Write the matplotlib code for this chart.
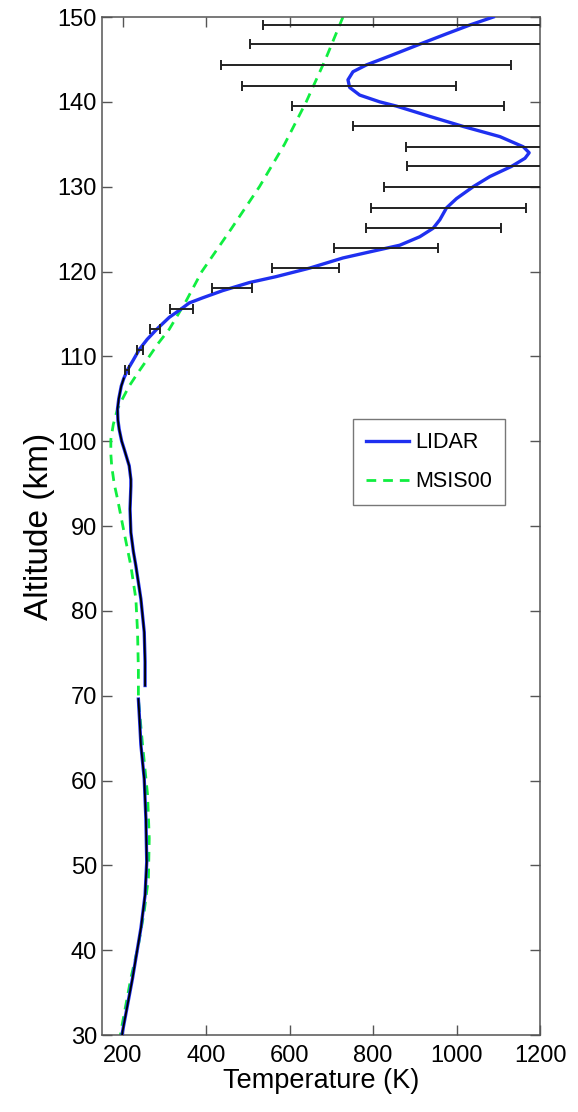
import numpy as np
import matplotlib.pyplot as plt

plt.rcParams['font.family'] = ['Liberation Sans', 'DejaVu Sans']

# LIDAR profile, upper segment (km, K)
lidar_alt_hi = [150, 149.06, 148.0, 146.8, 145.5, 144.35, 143.55, 142.6, 141.7, 140.8,
                140.0, 139.5, 138.3, 137.1, 135.9, 134.7, 134.0, 133.35, 132.4, 131.2,
                130.0, 128.6, 127.5, 126.1, 125.1, 124.1, 123.1, 122.4, 121.6, 120.4,
                119.4, 118.7, 117.75, 116.9, 116.3, 115.5, 114.6, 113.2, 112.0, 110.8,
                109.5, 108.5, 107.4, 106.5, 105.0, 103.8, 102.5, 101.4, 100.0, 99.06,
                97.1, 95.5, 94.7, 92.0, 89.25, 87.0, 85.3, 81.4, 77.5, 74.0, 71.2]
lidar_T_hi = [1088, 1032, 975, 912, 845, 784, 752, 740, 744, 768,
              816, 856, 935, 1016, 1104, 1160, 1174, 1164, 1132, 1080,
              1040, 1000, 976, 960, 944, 912, 864, 800, 728, 648,
              568, 504, 440, 392, 360, 338, 312, 282, 259, 240,
              225, 213, 203, 197, 191, 188, 189, 192, 198, 204,
              216, 220, 220, 218, 220, 226, 232, 244, 252, 254, 254]

# LIDAR profile, lower segment
lidar_alt_lo = [69.6, 67.0, 64.2, 60.2, 55.5, 50.4, 46.5, 42.6, 36.7, 30.4, 30.0]
lidar_T_lo = [238, 241, 244, 252, 256, 258, 254, 244, 224, 200, 199]

# MSIS00 model
msis_alt = [150, 145, 140, 135, 130, 125, 120, 116.5, 113.2, 111.5, 109.7, 108, 106.5,
            105, 103.8, 102, 100.2, 98.5, 97.1, 95, 93.2, 89.2, 85.3, 81.4, 77.5, 73,
            69.6, 64.2, 58.3, 53.2, 48.5, 44.6, 40.6, 36.7, 30.4, 30]
msis_T = [728, 686, 640, 588, 528, 460, 390, 352, 312, 285, 260, 236, 216,
          200, 188, 178, 172, 172, 174, 180, 188, 204, 220, 232, 236, 238,
          238, 248, 260, 264, 262, 252, 238, 220, 196, 195]

# error bars: altitude, lower and upper bound (K)
err_alt = [149.1, 146.8, 144.35, 141.9, 139.5, 137.1, 134.7, 132.4, 130.0, 127.5,
           125.1, 122.8, 120.4, 118.0, 115.6, 113.2, 110.8, 108.4]
err_lo = [536, 505, 436, 487, 606, 751, 878, 882, 827, 794,
          783, 706, 559, 414, 314, 266, 235, 206]
err_hi = [1528, 1319, 1130, 999, 1114, 1281, 1442, 1382, 1253, 1166,
          1106, 955, 719, 511, 369, 290, 248, 216]

fig = plt.figure(figsize=(5.78, 11.12), dpi=100)
ax = fig.add_axes([0.1773, 0.0692, 0.757, 0.9155])

blue = '#1f30f0'
green = '#10ee40'

ax.plot(lidar_T_hi, lidar_alt_hi, color=blue, lw=2.4, label='LIDAR', zorder=3,
        solid_joinstyle='round')
ax.plot(lidar_T_lo, lidar_alt_lo, color=blue, lw=2.4, zorder=3)
ax.plot(msis_T, msis_alt, color=green, lw=2.0, ls=(0, (3.5, 2.5)), label='MSIS00', zorder=2)

# dense small error bars below ~107 km show up as a black line over the profile
a_hi = np.array(lidar_alt_hi)
t_hi = np.array(lidar_T_hi)
m = a_hi <= 107.5
ax.plot(t_hi[m], a_hi[m], color='black', lw=1.3, zorder=4)
ax.plot(lidar_T_lo, lidar_alt_lo, color='black', lw=1.3, zorder=4)

lo = np.array(err_lo)
hi = np.array(err_hi)
ax.errorbar((lo + hi) / 2, err_alt, xerr=(hi - lo) / 2, fmt='none',
            ecolor='#222222', elinewidth=1.4, capsize=3.3, capthick=1.4, zorder=5)

ax.set_xlim(152, 1200)
ax.set_ylim(30, 150)
ax.set_xticks([200, 400, 600, 800, 1000, 1200])
ax.set_yticks(np.arange(30, 151, 10))
ax.tick_params(direction='in', top=True, right=True, length=7, width=1,
               color='#555555', labelsize=17)
ax.tick_params(axis='x', pad=7)
ax.tick_params(axis='y', pad=4)
for s in ax.spines.values():
    s.set_color('#555555')
    s.set_linewidth(1.1)

ax.set_xlabel('Temperature (K)', fontsize=19.5, labelpad=1)
ax.set_ylabel('Altitude (km)', fontsize=24, labelpad=2)

leg = ax.legend(loc='upper left', bbox_to_anchor=(0.573, 0.605), fontsize=15.5,
                frameon=True, fancybox=False, handlelength=2.0, handletextpad=0.3,
                borderpad=0.6, labelspacing=0.85, borderaxespad=0)
leg.get_frame().set_edgecolor('#555555')
leg.get_frame().set_linewidth(1.0)

fig.savefig('out.png', dpi=100)
